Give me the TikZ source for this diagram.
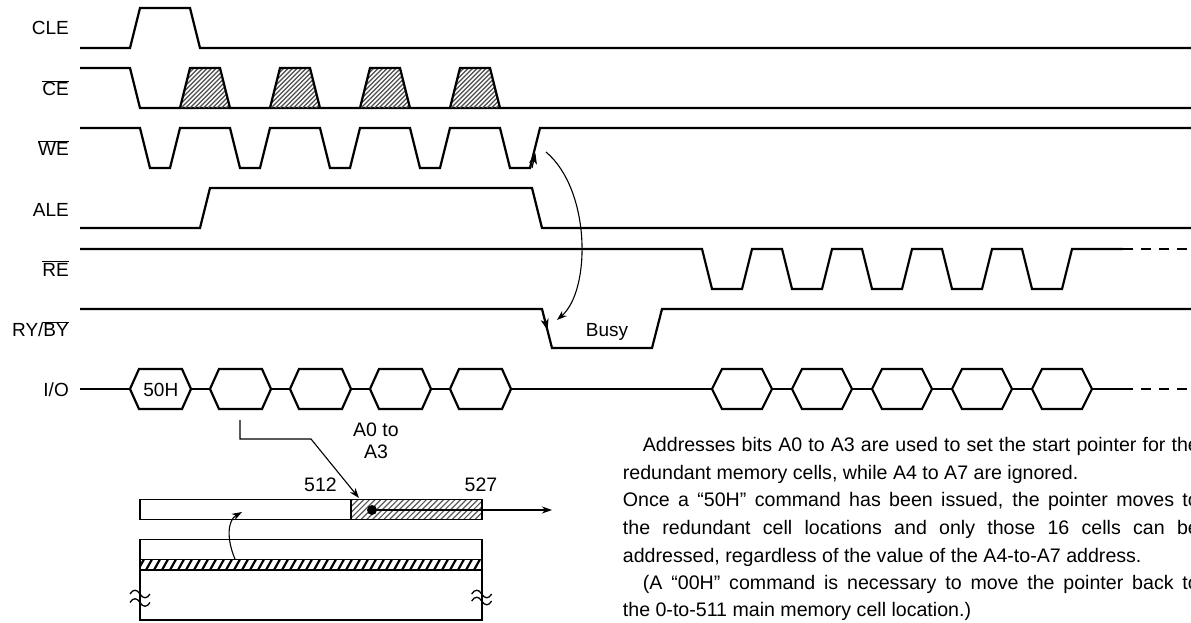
\documentclass[tikz,border=0pt]{standalone}
\usepackage{fontspec}
\setmainfont{Liberation Sans}
\usetikzlibrary{arrows.meta}
\tikzset{
  sig/.style={line width=2.2pt},
  sigdash/.style={line width=2.2pt, dash pattern=on 10pt off 8pt},
  thinline/.style={line width=1.1pt},
  thinarrow/.style={line width=1.1pt, -{Stealth[length=10pt,width=7pt,inset=3pt]}},
  edgearrow/.style={line width=1.2pt, -{Stealth[length=11pt,width=8pt,inset=3pt]}},
  boxline/.style={line width=1.3pt},
  hatchce/.style={line width=1.1pt, black!70},
  hatchbar/.style={line width=1.2pt, black!65},
  hatchstrip/.style={line width=2.2pt, black},
  lbl/.style={anchor=base east, inner sep=0pt},
  txt/.style={anchor=base west, inner sep=0pt, font=\fontsize{19.6}{23}\selectfont},
}
\begin{document}
\begin{tikzpicture}[x=1pt,y=-1pt,font=\fontsize{19}{23}\selectfont]
\useasboundingbox (0,0) rectangle (1191,623);

% ---------- labels ----------
\node[lbl] (lcle) at (69,35) {CLE};
\node[lbl] (lce) at (69,96) {$\overline{\mbox{CE}}$};
\node[lbl] (lwe) at (69,156) {$\overline{\mbox{WE}}$};
\node[lbl] (lale) at (69,216.7) {ALE};
\node[lbl] (lre) at (69,276) {$\overline{\mbox{RE}}$};
\node[lbl] (lry) at (69,336.7) {RY/$\overline{\mbox{BY}}$};
\node[lbl] (lio) at (69,396.7) {I/O};

% ---------- CLE ----------
\draw[sig] (80,48) -- (130,48) -- (140,8) -- (190,8) -- (200,48) -- (1191,48);

% ---------- CE ----------
\draw[sig] (80,68) -- (130,68) -- (140,108) -- (1191,108);
\foreach \a in {180,270,360,450}{
  \begin{scope}
    \clip (\a,108) -- (\a+10,68) -- (\a+40,68) -- (\a+50,108) -- cycle;
    \foreach \i in {-44,-39.5,...,52}
      \draw[hatchce] (\a+\i,108) -- (\a+\i+40,68);
  \end{scope}
  \draw[sig] (\a,108) -- (\a+10,68) -- (\a+40,68) -- (\a+50,108);
}

% ---------- WE ----------
\draw[sig] (80,128) \foreach \k in {0,...,4}{ -- ({140+90*\k},128) -- ({150+90*\k},168) -- ({170+90*\k},168) -- ({180+90*\k},128)} -- (1191,128);
\coordinate (werise) at (535.4,153);
\draw[edgearrow] (532,168) -- (werise);

% ---------- ALE ----------
\draw[sig] (80,228) -- (200,228) -- (210,188) -- (532,188) -- (542,228) -- (1191,228);

% ---------- RE ----------
\draw[sig] (80,249) \foreach \k in {0,...,4}{ -- ({702+80*\k},249) -- ({712+80*\k},289) -- ({742+80*\k},289) -- ({752+80*\k},249)} -- (1123,249);
\draw[sigdash] (1123,249) -- (1191,249);

% ---------- RY/BY ----------
\draw[sig] (80,309) -- (542,309) -- (552,348) -- (652,348) -- (662,309) -- (1191,309);
\coordinate (ryfall) at (547.4,330);
\draw[edgearrow] (542,309) -- (ryfall);
\node[anchor=base, inner sep=0pt] (busy) at (607,336.5) {Busy};

% curved arrow WE -> RY/BY
\coordinate (cstart) at (546,152);
\coordinate (cend) at (557,320);
\draw[thinarrow] (cstart) .. controls (591,190) and (591,290) .. (cend);

% ---------- I/O ----------
\draw[sig] (80,389) -- (1123,389);
\draw[sigdash] (1123,389) -- (1191,389);
\foreach \k in {0,...,4}{
  \draw[sig, fill=white] ({130+80*\k},389) -- ({139+80*\k},369) -- ({182+80*\k},369) -- ({191+80*\k},389) -- ({182+80*\k},409) -- ({139+80*\k},409) -- cycle;
}
\foreach \k in {0,...,4}{
  \draw[sig, fill=white] ({712+80*\k},389) -- ({722+80*\k},369) -- ({762+80*\k},369) -- ({772+80*\k},389) -- ({762+80*\k},409) -- ({722+80*\k},409) -- cycle;
}
\node[anchor=base, inner sep=0pt] (h50) at (160.8,396.7) {50H};

% ---------- memory diagram ----------
\coordinate (iodown) at (240,420);
\coordinate (ptr) at (359,498);
\draw[thinline, -{Stealth[length=10pt,width=7pt,inset=3pt]}] (iodown) -- (240,439) -- (311,439) -- (ptr);
\node[align=center, inner sep=0pt, anchor=base, font=\fontsize{19.5}{22}\selectfont] (a03) at (376,458) {A0 to\\A3};
\node[anchor=base, inner sep=0pt, font=\fontsize{19.5}{22}\selectfont] (n512) at (320.5,491.7) {512};
\node[anchor=base, inner sep=0pt, font=\fontsize{19.5}{22}\selectfont] (n527) at (481,491.7) {527};

% upper bar
\draw[boxline] (140,499.3) rectangle (351,519.3);
\begin{scope}
  \clip (351,499.3) rectangle (482,519.3);
  \foreach \i in {-24,-18.3,...,140}
    \draw[hatchbar] (351+\i,519.3) -- (351+\i+20,499.3);
\end{scope}
\draw[boxline] (351,499.3) rectangle (482,519.3);
\coordinate (dot) at (372,510);
\draw[thinarrow] (dot) -- (552,510);
\fill (dot) circle (5);

% lower block
\draw[boxline] (140,539.3) rectangle (482,620);
\begin{scope}
  \clip (140,559.3) rectangle (482,570);
  \foreach \i in {-10,-2,...,350}
    \draw[hatchstrip] (140+\i,570) -- (140+\i+6,559.3);
\end{scope}
\draw[boxline] (140,559.3) -- (482,559.3);
\draw[boxline] (140,570) -- (482,570);
\draw[thinarrow] (235,559) .. controls (226,538) and (228,520) .. (242,512);

% break marks
\foreach \x/\y in {130/594, 130/602.5, 471.7/594, 471.7/601}{
  \draw[boxline] (\x,\y) .. controls (\x+3,\y-5) and (\x+7,\y-5) .. (\x+10,\y) .. controls (\x+13,\y+5) and (\x+17,\y+5) .. (\x+20,\y);
}

% ---------- text block ----------
\node[txt] (t1) at (642.7,451.7) {\makebox[556pt][s]{Addresses bits A0 to A3 are used to set the start pointer for the}};
\node[txt] (t2) at (622.7,479.3) {redundant memory cells, while A4 to A7 are ignored.};
\node[txt] (t3) at (622.7,506.7) {\makebox[576pt][s]{Once a “50H” command has been issued, the pointer moves to}};
\node[txt] (t4) at (622.7,534) {\makebox[576pt][s]{the redundant cell locations and only those 16 cells can be}};
\node[txt] (t5) at (622.7,562.3) {addressed, regardless of the value of the A4-to-A7 address.};
\node[txt] (t6) at (642.7,589.3) {\makebox[556pt][s]{(A “00H” command is necessary to move the pointer back to}};
\node[txt] (t7) at (622.7,616.7) {the 0-to-511 main memory cell location.)};
\end{tikzpicture}
\end{document}
